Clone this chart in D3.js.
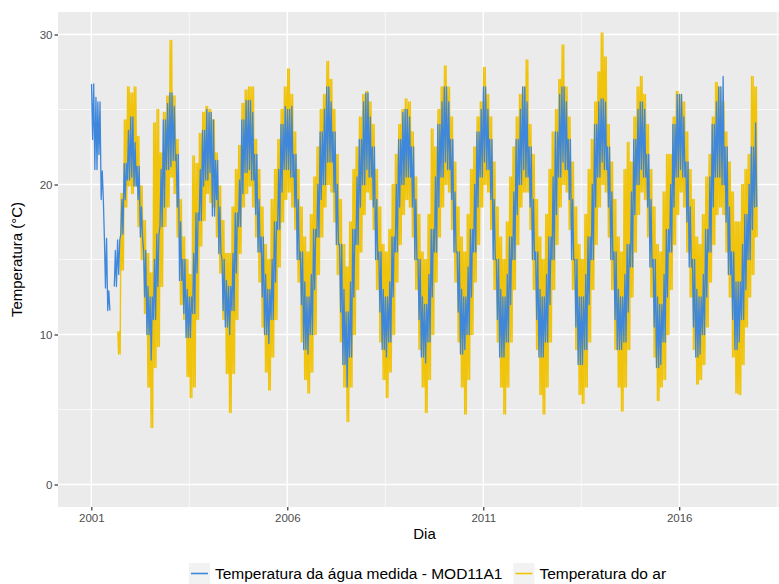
<!DOCTYPE html>
<html>
  <head>
    <meta charset="utf-8">
    <title>Temperatura</title>
    <script src="https://cdn.jsdelivr.net/npm/d3@7"></script>
    <style>
      body { margin: 0; background: #fff; }
      text { font-family: "Liberation Sans", Arial, Helvetica, sans-serif; }
    </style>
  </head>
  <body>
    <svg width="779" height="584"></svg>
    <script>
      const svg = d3.select('svg');
      const width  = +svg.attr('width');
      const height = +svg.attr('height');
      // panel runs past the right border, the original picture was cropped there
      const margin = {top: 12, left: 58, panelRight: 791, bottom: 507};

      const firstYear = 2001;
      const xTicks = [2001, 2006, 2011, 2016];
      const yTicks = [0, 10, 20, 30];
      const seriesNames = ['Temperatura da água medida - MOD11A1', 'Temperatura do ar'];
      const colors = ['#3f87da', '#f0c40c'];

      // monthly upper / lower envelope of the daily curves, Jan 2001 .. Dec 2017
      const airHigh = [
        null, null, null, null, null, null, null, null, 10.2, 19.4, 24.3, 26.5,
        26.1, 26.5, 23.2, 19.9, 17.6, 15.4, 14.1, 24.1, 25.0, 22.1, 24.8, 25.9,
        29.6, 25.9, 23.0, 19.0, 16.5, 15.0, 14.0, 21.9, 21.4, 23.4, 24.8, 25.2,
        25.0, 24.3, 22.1, 19.9, 17.6, 15.4, 15.4, 18.5, 21.0, 22.6, 25.4, 26.3,
        26.5, 26.5, 23.0, 21.0, 18.5, 16.0, 15.0, 19.0, 21.0, 23.0, 25.0, 26.5,
        27.7, 26.0, 23.5, 21.0, 18.5, 16.5, 15.5, 18.0, 20.5, 22.5, 25.0, 26.0,
        28.2, 27.0, 25.0, 22.0, 19.0, 16.0, 14.5, 17.5, 21.0, 22.5, 24.5, 26.0,
        26.2, 25.5, 24.0, 21.0, 18.5, 16.0, 15.5, 17.0, 20.0, 22.0, 24.0, 25.0,
        25.7, 25.5, 23.5, 20.5, 18.0, 15.5, 15.0, 18.0, 23.7, 22.5, 25.0, 26.5,
        27.9, 26.5, 24.5, 21.5, 18.5, 16.5, 15.5, 18.0, 21.0, 22.5, 24.5, 25.5,
        27.8, 26.0, 24.5, 21.5, 18.5, 16.5, 15.0, 17.5, 20.5, 22.5, 24.5, 26.0,
        26.5, 28.3, 24.0, 22.0, 19.0, 16.5, 15.0, 18.0, 21.0, 23.5, 25.0, 27.0,
        29.3, 26.5, 24.5, 21.5, 18.5, 16.0, 15.0, 18.0, 21.0, 23.0, 25.5, 27.5,
        30.1, 28.5, 24.0, 21.5, 19.0, 16.5, 15.5, 21.0, 22.8, 21.5, 24.5, 26.5,
        27.2, 26.0, 24.0, 21.0, 18.5, 16.0, 15.5, 19.5, 22.0, 22.0, 24.5, 26.2,
        26.0, 25.5, 23.5, 21.0, 19.0, 16.5, 16.0, 18.0, 20.5, 22.0, 24.5, 26.8,
        26.5, 25.5, 23.5, 21.5, 19.5, 17.5, 17.5, 20.0, 21.0, 22.0, 27.2, 26.5
      ];
      const airLow = [
        null, null, null, null, null, null, null, null, 8.7, 14.3, 18.5, 19.9,
        19.4, 19.9, 17.2, 15.0, 11.4, 6.5, 3.8, 7.8, 9.2, 13.2, 17.2, 18.5,
        20.5, 19.4, 16.5, 12.0, 11.0, 7.2, 5.8, 6.5, 11.0, 15.9, 17.6, 19.4,
        18.8, 18.5, 16.5, 14.1, 11.0, 7.4, 4.8, 7.4, 11.0, 15.4, 18.5, 19.4,
        19.9, 18.5, 16.5, 13.5, 10.5, 7.5, 6.3, 8.5, 11.0, 14.5, 17.5, 19.0,
        19.5, 18.5, 17.0, 13.5, 9.5, 7.0, 6.1, 7.5, 10.0, 14.0, 16.5, 18.5,
        20.0, 19.5, 17.5, 14.0, 9.5, 6.5, 4.2, 6.5, 10.0, 13.0, 15.5, 18.0,
        19.5, 19.0, 17.0, 13.0, 9.5, 7.0, 5.8, 7.5, 10.0, 13.5, 16.0, 18.0,
        19.0, 18.5, 16.5, 13.0, 9.0, 6.5, 4.8, 7.0, 10.0, 13.5, 16.5, 18.5,
        20.0, 19.5, 17.0, 13.5, 9.5, 6.5, 4.7, 7.0, 10.0, 13.5, 16.0, 18.5,
        20.0, 19.5, 17.0, 13.0, 9.5, 6.5, 4.7, 6.5, 9.5, 13.0, 16.0, 18.5,
        19.5, 19.5, 17.0, 13.0, 9.0, 6.0, 4.7, 6.5, 9.5, 13.0, 16.0, 18.5,
        20.0, 19.5, 17.0, 13.0, 9.0, 6.0, 5.4, 6.5, 9.5, 13.0, 16.0, 18.5,
        20.0, 19.5, 16.5, 13.0, 9.0, 6.5, 4.9, 6.5, 9.0, 12.5, 15.5, 18.0,
        19.5, 19.0, 16.5, 12.5, 8.5, 5.6, 6.5, 7.0, 10.0, 13.0, 16.0, 18.0,
        19.5, 18.5, 15.5, 12.5, 9.0, 6.7, 7.0, 8.0, 10.5, 13.5, 16.0, 18.0,
        18.5, 18.0, 15.5, 12.5, 8.5, 6.1, 6.0, 8.0, 10.5, 12.5, 14.0, 16.5
      ];
      const waterHigh = [
        26.7, 25.8, 25.5, 20.9, 16.4, 12.9, null, 15.6, 16.3, 19.0, 21.4, 23.6,
        24.5, 22.8, 21.2, 18.5, 15.6, 13.2, 12.5, 15.0, 16.7, 21.0, 24.3, 25.4,
        26.1, 25.2, 22.0, 17.5, 15.0, 13.0, 12.5, 15.4, 18.1, 21.0, 23.6, 25.0,
        24.8, 24.3, 21.6, 18.5, 15.0, 13.6, 13.2, 15.4, 18.1, 20.3, 24.3, 25.6,
        25.6, 24.8, 22.0, 19.0, 16.5, 14.0, 13.0, 15.0, 17.5, 21.0, 24.0, 25.2,
        25.0, 25.2, 22.0, 19.0, 15.5, 13.5, 12.5, 14.0, 17.0, 20.0, 23.5, 25.0,
        26.5, 25.5, 23.5, 20.0, 16.0, 13.0, 11.5, 13.5, 17.0, 20.5, 23.0, 25.5,
        26.1, 24.5, 22.5, 19.0, 15.5, 13.0, 12.5, 13.5, 16.5, 20.0, 23.0, 24.8,
        25.0, 24.5, 22.5, 19.0, 15.0, 12.5, 12.0, 14.0, 17.0, 20.5, 24.0, 25.5,
        26.5, 25.5, 23.0, 19.5, 15.5, 13.0, 12.5, 14.5, 17.0, 20.0, 23.5, 25.0,
        26.5, 25.0, 23.0, 19.0, 15.0, 13.0, 12.5, 14.0, 16.5, 19.5, 23.0, 25.0,
        26.5, 25.5, 22.5, 19.0, 15.5, 13.0, 12.5, 14.0, 16.5, 20.5, 23.5, 26.0,
        26.5, 25.5, 23.0, 19.0, 15.0, 12.5, 12.5, 14.0, 16.5, 20.0, 24.0, 25.5,
        25.7, 25.5, 22.5, 19.5, 15.5, 13.0, 12.5, 14.0, 16.0, 19.5, 23.0, 25.0,
        25.5, 25.0, 22.0, 19.0, 15.0, 12.5, 12.0, 14.0, 17.0, 20.0, 24.0, 26.0,
        26.0, 24.5, 21.5, 18.5, 15.0, 13.0, 12.5, 14.0, 17.0, 20.5, 24.0, 25.5,
        26.5, 27.2, 22.5, 18.5, 15.5, 13.5, 13.5, 16.0, 18.0, 20.0, 22.5, 24.1
      ];
      const waterLow = [
        23.0, 21.0, 22.0, 19.0, 13.1, 11.6, null, 13.2, 14.0, 16.7, 19.0, 20.3,
        20.5, 19.9, 19.0, 16.5, 12.5, 10.0, 8.3, 11.0, 13.2, 17.2, 18.5, 21.0,
        21.2, 21.6, 18.5, 13.6, 11.4, 9.8, 9.8, 11.4, 14.1, 17.6, 19.9, 20.3,
        20.8, 17.9, 19.0, 15.4, 11.6, 10.5, 10.0, 11.6, 14.1, 17.2, 19.4, 20.8,
        21.0, 20.3, 18.0, 15.5, 12.5, 10.0, 9.4, 11.0, 13.5, 17.0, 19.5, 21.0,
        21.0, 20.5, 18.5, 15.0, 12.0, 9.0, 8.7, 10.0, 13.0, 16.5, 19.0, 20.0,
        21.5, 21.5, 19.5, 16.0, 11.5, 8.0, 6.5, 8.5, 12.5, 16.0, 18.5, 20.0,
        21.0, 20.5, 18.5, 15.0, 11.5, 9.0, 8.5, 9.5, 12.5, 15.5, 18.5, 20.0,
        20.5, 20.5, 18.5, 15.0, 11.0, 8.5, 8.1, 9.5, 12.5, 15.5, 18.5, 20.5,
        21.5, 21.0, 19.0, 15.5, 11.5, 8.7, 9.0, 10.0, 12.5, 15.5, 18.5, 20.5,
        21.5, 21.0, 19.0, 15.0, 11.0, 8.5, 8.5, 9.5, 12.0, 15.0, 18.0, 20.0,
        21.0, 20.5, 18.5, 15.0, 11.0, 8.5, 8.5, 9.5, 12.0, 15.0, 18.0, 20.5,
        21.5, 21.0, 19.0, 15.0, 10.5, 8.0, 8.0, 9.0, 12.0, 15.0, 18.5, 20.5,
        21.5, 21.0, 18.5, 15.0, 11.0, 9.0, 9.0, 9.5, 11.5, 14.5, 18.0, 20.0,
        21.0, 20.5, 18.5, 14.5, 10.5, 7.8, 8.0, 9.5, 12.5, 15.5, 18.5, 20.5,
        21.0, 20.5, 17.5, 14.5, 10.5, 8.5, 8.7, 10.0, 12.5, 15.5, 18.5, 20.5,
        20.5, 20.0, 17.5, 14.0, 11.0, 9.0, 9.5, 11.0, 13.0, 15.0, 17.0, 18.5
      ];

      // daily curves swing between the two envelopes: draw them at a few days per month,
      // alternating upper / lower along the whole series
      const toPoints = (hi, lo, days) => {
        const pts = [];
        let k = 0;
        hi.forEach((v, i) => {
          const yr = firstYear + Math.floor(i / 12), mo = i % 12;
          days.forEach(day => {
            pts.push({date: new Date(Date.UTC(yr, mo, day)), t: k % 2 === 0 ? v : lo[i]});
            k++;
          });
        });
        return pts;
      };
      const waterData = toPoints(waterHigh, waterLow, [3, 13, 23]);
      const airData = toPoints(airHigh, airLow, [5, 12, 20, 27]);

      // scales with ggplot's 5% expansion
      const t0 = Date.UTC(2001, 0, 1), t1 = Date.UTC(2018, 0, 1);
      const pad = (t1 - t0) * 0.05;
      const xScale = d3.scaleUtc()
        .domain([new Date(t0 - pad), new Date(t1 + pad)])
        .range([margin.left, margin.panelRight]);
      const yScale = d3.scaleLinear()
        .domain([-1.5, 31.5])
        .range([margin.bottom, margin.top]);

      const yearDate = y => new Date(Date.UTC(y, 0, 1));
      const midDate = (a, b) => new Date((yearDate(a).getTime() + yearDate(b).getTime()) / 2);

      // panel
      svg.append('rect')
        .attr('x', margin.left).attr('y', margin.top)
        .attr('width', margin.panelRight - margin.left)
        .attr('height', margin.bottom - margin.top)
        .attr('fill', '#ebebeb');

      const grid = svg.append('g');
      const xMinor = [midDate(1996, 2001), midDate(2001, 2006), midDate(2006, 2011), midDate(2011, 2016), midDate(2016, 2021)];
      grid.selectAll('.xminor').data(xMinor).enter().append('line')
        .attr('x1', d => xScale(d)).attr('x2', d => xScale(d))
        .attr('y1', margin.top).attr('y2', margin.bottom)
        .attr('stroke', '#fff').attr('stroke-width', 0.7);
      grid.selectAll('.yminor').data([5, 15, 25]).enter().append('line')
        .attr('x1', margin.left).attr('x2', margin.panelRight)
        .attr('y1', d => yScale(d)).attr('y2', d => yScale(d))
        .attr('stroke', '#fff').attr('stroke-width', 0.7);
      grid.selectAll('.xmajor').data(xTicks).enter().append('line')
        .attr('x1', d => xScale(yearDate(d))).attr('x2', d => xScale(yearDate(d)))
        .attr('y1', margin.top).attr('y2', margin.bottom)
        .attr('stroke', '#fff').attr('stroke-width', 1.4);
      grid.selectAll('.ymajor').data(yTicks).enter().append('line')
        .attr('x1', margin.left).attr('x2', margin.panelRight)
        .attr('y1', d => yScale(d)).attr('y2', d => yScale(d))
        .attr('stroke', '#fff').attr('stroke-width', 1.4);

      svg.append('clipPath').attr('id', 'panel')
        .append('rect')
        .attr('x', margin.left).attr('y', margin.top)
        .attr('width', margin.panelRight - margin.left)
        .attr('height', margin.bottom - margin.top);

      const line = d3.line()
        .defined(d => d.t != null)
        .x(d => xScale(d.date))
        .y(d => yScale(d.t));

      const lines = svg.append('g').attr('clip-path', 'url(#panel)');
      lines.append('path')
        .attr('d', line(airData))
        .attr('fill', 'none')
        .attr('stroke', colors[1])
        .attr('stroke-width', 1.4)
        .attr('stroke-linejoin', 'round');
      lines.append('path')
        .attr('d', line(waterData))
        .attr('fill', 'none')
        .attr('stroke', colors[0])
        .attr('stroke-width', 1.3)
        .attr('stroke-linejoin', 'round');

      // axes
      const xAxis = d3.axisBottom(xScale)
        .tickValues(xTicks.map(yearDate))
        .tickFormat(d3.utcFormat('%Y'))
        .tickSize(3.5).tickPadding(3);
      const yAxis = d3.axisLeft(yScale)
        .tickValues(yTicks)
        .tickSize(3.5).tickPadding(2);

      const xAxisG = svg.append('g')
        .attr('transform', `translate(0,${margin.bottom})`)
        .call(xAxis);
      const yAxisG = svg.append('g')
        .attr('transform', `translate(${margin.left},0)`)
        .call(yAxis);
      [xAxisG, yAxisG].forEach(g => {
        g.select('.domain').remove();
        g.selectAll('.tick line').attr('stroke', '#333').attr('stroke-width', 1.2);
        g.selectAll('.tick text')
          .attr('fill', '#4d4d4d')
          .style('font-size', '11.5px')
          .style('font-family', '"Liberation Sans", Arial, sans-serif');
      });

      // axis titles
      svg.append('text')
        .attr('x', (margin.left + margin.panelRight) / 2)
        .attr('y', 539)
        .attr('text-anchor', 'middle')
        .style('font-size', '15px')
        .text('Dia');
      svg.append('text')
        .attr('transform', `translate(22,${(margin.top + margin.bottom) / 2}) rotate(-90)`)
        .attr('text-anchor', 'middle')
        .style('font-size', '15px')
        .text('Temperatura (°C)');

      // legend
      const keySize = 21;
      const legend = svg.append('g');
      let cursor = 0;
      seriesNames.forEach((name, i) => {
        const item = legend.append('g').attr('transform', `translate(${cursor},0)`);
        item.append('rect')
          .attr('width', keySize).attr('height', keySize)
          .attr('fill', '#f2f2f2');
        item.append('line')
          .attr('x1', 2).attr('x2', keySize - 2)
          .attr('y1', keySize / 2).attr('y2', keySize / 2)
          .attr('stroke', colors[i]).attr('stroke-width', 1.6);
        const label = item.append('text')
          .attr('x', keySize + 5)
          .attr('y', keySize / 2 + 5.5)
          .style('font-size', '15.5px')
          .text(name);
        cursor += keySize + 5 + label.node().getComputedTextLength() + 11;
      });
      const legendWidth = cursor - 11;
      legend.attr('transform', `translate(${427.5 - legendWidth / 2},563)`);
    </script>
  </body>
</html>
